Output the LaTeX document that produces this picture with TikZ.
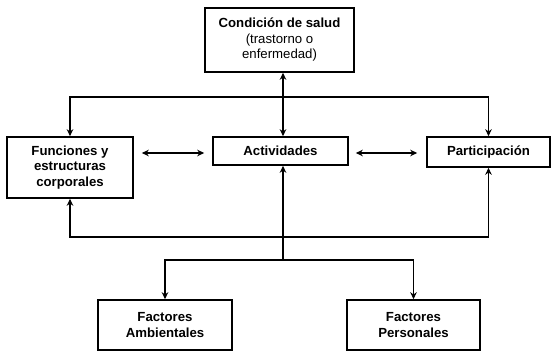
\documentclass[tikz,border=0pt]{standalone}
\usepackage{fontspec}
\setmainfont{Liberation Sans}
\usetikzlibrary{arrows.meta}

\begin{document}
\begin{tikzpicture}[x=1pt, y=-1pt,
		box/.style = {draw, line width=1.6pt, align=center, inner sep=0pt,
			font=\fontsize{13.2}{15.5}\selectfont\bfseries},
		conn/.style = {line width=1.8pt, arrows = {-Stealth[length=7pt, width=6.5pt]}},
		biconn/.style = {conn, arrows = {Stealth[length=7pt, width=6.5pt]-Stealth[length=7pt, width=6.5pt]}}]
		\useasboundingbox (0, 0) rectangle (553, 352);

		\node[box, minimum width=149pt, minimum height=64pt] (cond) at (279.5, 40)
			{Condición de salud\\{\mdseries(trastorno o}\\{\mdseries enfermedad)}};
		\node[box, minimum width=126pt, minimum height=61pt] (func) at (70, 167.5)
			{Funciones y\\estructuras\\corporales};
		\node[box, minimum width=135pt, minimum height=28pt] (act) at (280.5, 151) {Actividades};
		\node[box, minimum width=123pt, minimum height=30pt] (part) at (488.5, 152) {Participación};
		\node[box, minimum width=134pt, minimum height=50pt] (amb) at (165, 325)
			{Factores\\Ambientales};
		\node[box, minimum width=133pt, minimum height=50pt] (pers) at (413.5, 325)
			{Factores\\Personales};

		\coordinate (topbar) at (283, 97);
		\coordinate (botbar) at (283, 237);
		\coordinate (fork) at (283, 260);

		% condicion <-> actividades
		\draw[biconn] (act.north -| topbar) -- (cond.south -| topbar);
		\draw[conn] (topbar) -| (func.north);
		\draw[conn] (topbar) -| (part.north);

		% relaciones horizontales
		\draw[biconn, shorten <=8pt, shorten >=8pt] (func.east |- 0, 153) -- (act.west |- 0, 153);
		\draw[biconn, shorten <=7pt, shorten >=9pt] (act.east |- 0, 153) -- (part.west |- 0, 153);

		% parte inferior
		\draw[conn] (botbar) -| (func.south);
		\draw[conn] (botbar) -| (part.south);
		\draw[conn] (fork) -- (act.south -| fork);
		\draw[conn] (fork) -| (amb.north);
		\draw[conn] (fork) -| (pers.north);
	\end{tikzpicture}
\end{document}
